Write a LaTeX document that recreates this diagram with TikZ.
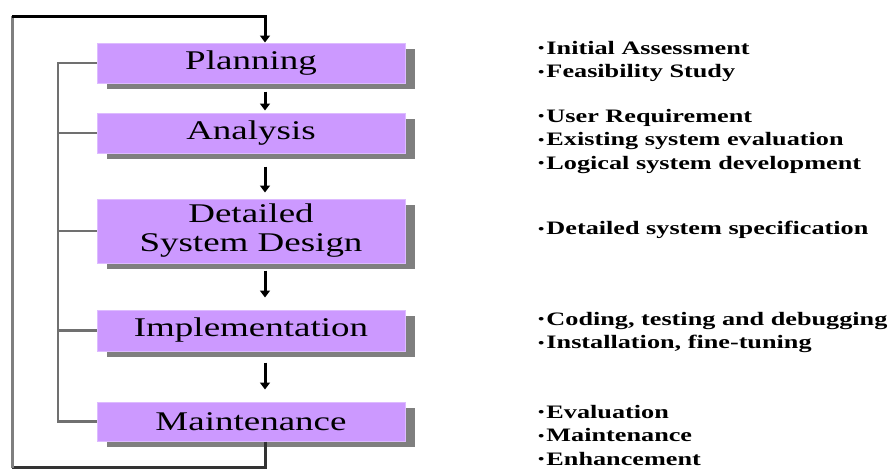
\documentclass[tikz,border=0pt]{standalone}
\usepackage{fontspec}
\setmainfont{Liberation Serif}
\newfontfamily\boxfont[FakeStretch=1.37]{Liberation Serif}
\newfontfamily\notefont[FakeStretch=1.38]{Liberation Serif}
\usetikzlibrary{arrows.meta,shadows}
\definecolor{boxpurple}{HTML}{CC99FF}
\definecolor{boxedge}{HTML}{DDBBFF}
\definecolor{shadowgray}{HTML}{7F7F7F}
\definecolor{linegray}{HTML}{707070}
\tikzset{
  phase/.style={rectangle, minimum width=308pt, fill=boxpurple, draw=boxedge, line width=1pt,
    inner sep=0pt, align=center, font=\boxfont\fontsize{27}{31}\selectfont,
    general shadow={fill=shadowgray, shadow xshift=10pt, shadow yshift=-6pt}},
  flow/.style={line width=3pt, -{Triangle[width=10pt,length=7pt]}},
  bracket/.style={line width=2.5pt, linegray},
  loopline/.style={line width=3pt},
  note/.style={anchor=west, align=left, inner sep=0pt, font=\notefont\bfseries\fontsize{19}{23.5}\selectfont},
}
\newcommand{\bul}{\raisebox{1.5pt}{\fontsize{13}{13}\selectfont\textbullet}\hspace{2pt}}
\begin{document}
\begin{tikzpicture}[x=1pt,y=-1pt]
\useasboundingbox (0,0) rectangle (891,469);
\coordinate (ax) at (265,0);
\coordinate (bx) at (58,0);
\coordinate (tl) at (12,16);
\coordinate (bl) at (12,467.5);

\node[phase, minimum height=40pt] (P) at (251,63) {Planning};
\node[phase, minimum height=40pt] (A) at (251,133) {Analysis};
\node[phase, minimum height=64pt] (D) at (251,231) {Detailed\\[-2pt]System Design};
\node[phase, minimum height=41pt] (I) at (251,330.5) {Implementation};
\node[phase, minimum height=39pt] (M) at (251,421.5) {Maintenance};

% flow arrows
\draw[flow, shorten <=8pt, shorten >=2pt] (P.south -| ax) -- (A.north -| ax);
\draw[flow, shorten <=13pt, shorten >=6pt] (A.south -| ax) -- (D.north -| ax);
\draw[flow, shorten <=7pt, shorten >=12pt] (D.south -| ax) -- (I.north -| ax);
\draw[flow, shorten <=11pt, shorten >=12pt] (I.south -| ax) -- (M.north -| ax);

% outer feedback loop
\draw[loopline, black!80] (M.south -| ax) -- (bl -| ax) -- (bl);
\draw[loopline, shadowgray] (bl) -- (tl);
\draw[loopline, black, -{Triangle[width=10pt,length=7pt]}] (tl) -- (tl -| ax) -- (P.north -| ax);

% inner bracket
\draw[bracket] (P.west) -- (P.west -| bx) -- (M.west -| bx) -- (M.west);
\draw[bracket] (A.west -| bx) -- (A.west);
\draw[bracket] (D.west -| bx) -- (D.west);
\draw[bracket] (I.west -| bx) -- (I.west);

% notes
\node[note] (n1) at (538,61.5) {\bul Initial Assessment\\\bul Feasibility Study};
\node[note] (n2) at (538,141.5) {\bul User Requirement\\\bul Existing system evaluation\\\bul Logical system development};
\node[note] (n3) at (538,230) {\bul Detailed system specification};
\node[note] (n4) at (538,332.5) {\bul Coding, testing and debugging\\\bul Installation, fine-tuning};
\node[note] (n5) at (538,435) {\bul Evaluation\\\bul Maintenance\\\bul Enhancement};
\end{tikzpicture}
\end{document}
